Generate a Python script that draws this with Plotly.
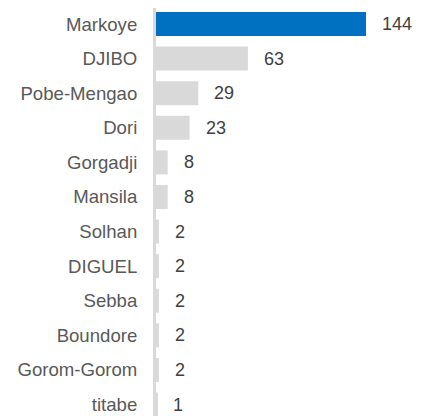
import plotly.graph_objects as go

categories = ["Markoye", "DJIBO", "Pobe-Mengao", "Dori", "Gorgadji", "Mansila",
              "Solhan", "DIGUEL", "Sebba", "Boundore", "Gorom-Gorom", "titabe"]
values = [144, 63, 29, 23, 8, 8, 2, 2, 2, 2, 2, 1]
bar_colors = ["#0070C0"] + ["#D9D9D9"] * (len(values) - 1)

FONT = "Arial, Liberation Sans, sans-serif"

fig = go.Figure()
fig.add_trace(go.Bar(
    x=values, y=categories, orientation="h",
    marker=dict(color=bar_colors, line=dict(width=0)),
    hoverinfo="skip",
))

for c, v in zip(categories, values):
    fig.add_annotation(
        x=v, y=c, text=str(v), showarrow=False,
        xanchor="left", yanchor="middle", xshift=14,
        font=dict(family=FONT, size=18, color="#404040"),
    )

# page body has an 8px default margin, so the figure is sized to fit the window
fig.update_layout(
    width=421, height=408,
    margin=dict(l=148, r=0, t=0, b=0),
    paper_bgcolor="white", plot_bgcolor="white",
    bargap=0.306,
    showlegend=False,
    font=dict(family=FONT, size=18, color="#595959"),
)
fig.update_xaxes(range=[0, 187.2], visible=False, fixedrange=True)
fig.update_yaxes(
    type="category",
    range=[11.33, -0.462],
    showline=True, linecolor="#D9D9D9", linewidth=3,
    showgrid=False, zeroline=False,
    ticks="outside", ticklen=12, tickcolor="rgba(0,0,0,0)",
    tickfont=dict(family=FONT, size=18.6, color="#595959"),
    automargin=False,
    fixedrange=True,
)

fig.write_html("out.html")
